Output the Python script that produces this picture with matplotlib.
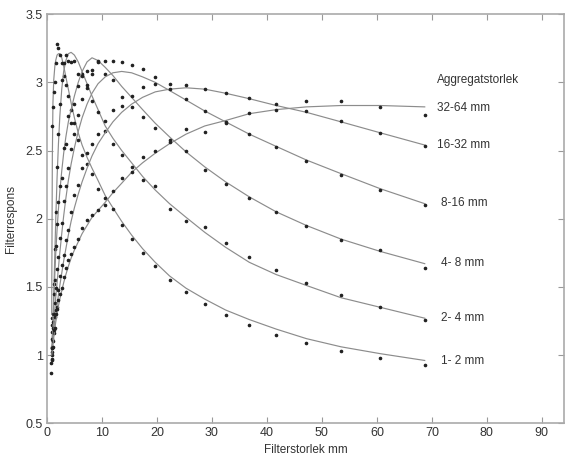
import numpy as np
import matplotlib
matplotlib.use("Agg")
import matplotlib.pyplot as plt

plt.rcParams['font.family'] = ['Liberation Sans', 'DejaVu Sans']

# filter sizes (mm) where the response was sampled
xs = [0.77, 0.87, 0.99, 1.1, 1.25, 1.45, 1.6, 1.85, 2.1, 2.35, 2.7, 3.05, 3.45,
      3.9, 4.4, 5.0, 5.7, 6.4, 7.3, 8.2, 9.3, 10.6, 12.0, 13.6, 15.4, 17.4,
      19.7, 22.3, 25.3, 28.7, 32.5, 36.8, 41.7, 47.2, 53.5, 60.6, 68.7]
nan = np.nan

labels = ['1- 2 mm', '2- 4 mm', '4- 8 mm', '8-16 mm', '16-32 mm', '32-64 mm']

# fitted curves
fit_1_2 = [nan, 1.30, 2.45, 2.85, 3.02, 3.12, 3.16, 3.20, 3.21, 3.21, 3.18, 3.12, 3.04,
           2.95, 2.85, 2.74, 2.63, 2.54, 2.45, 2.37, 2.28, 2.17, 2.08, 1.98, 1.88, 1.78,
           1.68, 1.58, 1.49, 1.41, 1.33, 1.26, 1.19, 1.12, 1.06, 1.01, 0.96]
fit_2_4 = [nan, 1.10, 1.15, 1.25, 1.45, 1.75, 1.98, 2.30, 2.55, 2.75, 2.95, 3.08, 3.16,
           3.21, 3.22, 3.20, 3.15, 3.08, 2.99, 2.90, 2.80, 2.68, 2.59, 2.50, 2.41, 2.31,
           2.21, 2.11, 2.01, 1.90, 1.79, 1.68, 1.59, 1.51, 1.42, 1.35, 1.27]
fit_4_8 = [nan, 1.05, 1.10, 1.20, 1.40, 1.60, 1.74, 1.92, 2.07, 2.20, 2.35, 2.48, 2.60,
           2.71, 2.80, 2.90, 3.00, 3.08, 3.15, 3.18, 3.16, 3.11, 3.05, 2.97, 2.89, 2.80,
           2.70, 2.60, 2.49, 2.38, 2.27, 2.16, 2.05, 1.95, 1.85, 1.76, 1.67]
fit_8_16 = [nan, 1.04, 1.08, 1.15, 1.24, 1.34, 1.42, 1.53, 1.64, 1.75, 1.89, 2.02, 2.15,
            2.28, 2.40, 2.52, 2.64, 2.74, 2.84, 2.92, 2.99, 3.04, 3.07, 3.08, 3.07, 3.04,
            3.00, 2.94, 2.87, 2.79, 2.71, 2.62, 2.53, 2.43, 2.33, 2.22, 2.11]
fit_16_32 = [nan, 1.03, 1.07, 1.12, 1.18, 1.25, 1.30, 1.37, 1.44, 1.51, 1.60, 1.69, 1.78,
             1.88, 1.98, 2.08, 2.18, 2.27, 2.37, 2.46, 2.55, 2.63, 2.71, 2.78, 2.84, 2.89,
             2.93, 2.95, 2.96, 2.95, 2.92, 2.88, 2.83, 2.78, 2.71, 2.63, 2.54]
fit_32_64 = [nan, 1.00, 1.03, 1.07, 1.13, 1.19, 1.24, 1.30, 1.36, 1.41, 1.47, 1.53, 1.59,
             1.65, 1.71, 1.77, 1.83, 1.89, 1.95, 2.01, 2.06, 2.12, 2.19, 2.26, 2.34, 2.41,
             2.48, 2.55, 2.62, 2.68, 2.72, 2.77, 2.80, 2.82, 2.83, 2.83, 2.82]

# measured points
pts_1_2 = [nan, 1.27, 2.68, 2.82, 2.93, 3.00, 3.14, 3.28, 3.25, 3.20, 3.14, 3.05, 2.98,
           2.90, 2.80, 2.70, 2.58, 2.47, 2.40, 2.33, 2.22, 2.15, 2.07, 1.95, 1.85, 1.75,
           1.65, 1.55, 1.46, 1.375, 1.29, 1.22, 1.15, 1.09, 1.03, 0.976, 0.93]
pts_2_4 = [nan, 1.17, 1.22, 1.30, 1.52, 1.78, 2.05, 2.38, 2.62, 2.84, 3.02, 3.14, 3.20,
           3.16, 3.15, 3.16, 3.06, 3.06, 2.96, 2.86, 2.78, 2.64, 2.55, 2.47, 2.38, 2.28,
           2.24, 2.07, 1.98, 1.936, 1.82, 1.72, 1.623, 1.527, 1.439, 1.353, 1.26]
pts_4_8 = [nan, 1.00, 1.06, 1.24, 1.45, 1.55, 1.80, 1.96, 2.12, 2.24, 2.30, 2.52, 2.55,
           2.75, 2.70, 2.84, 2.97, 3.05, 3.08, 3.09, 3.15, 3.06, 3.02, 2.89, 2.82, 2.745,
           2.664, 2.58, 2.50, 2.36, 2.255, 2.152, 2.046, 1.943, 1.843, 1.77, 1.64]
pts_8_16 = [nan, 0.97, 1.12, 1.20, 1.30, 1.38, 1.49, 1.63, 1.72, 1.86, 1.97, 2.13, 2.24,
            2.37, 2.51, 2.62, 2.76, 2.88, 2.98, 3.06, 3.16, 3.16, 3.16, 3.15, 3.125, 3.10,
            3.04, 2.99, 2.88, 2.787, 2.70, 2.618, 2.524, 2.42, 2.32, 2.21, 2.10]
pts_16_32 = [0.94, 1.02, 1.05, 1.10, 1.16, 1.28, 1.33, 1.35, 1.48, 1.58, 1.66, 1.73, 1.84,
             1.92, 2.05, 2.17, 2.25, 2.37, 2.48, 2.55, 2.62, 2.72, 2.80, 2.83, 2.90, 2.965,
             2.99, 2.95, 2.978, 2.95, 2.92, 2.885, 2.838, 2.787, 2.715, 2.63, 2.53]
pts_32_64 = [0.87, 0.96, 1.05, 1.06, 1.18, 1.20, 1.30, 1.34, 1.40, 1.45, 1.49, 1.57, 1.64,
             1.70, 1.74, 1.79, 1.85, 1.93, 1.99, 2.03, 2.06, 2.10, 2.20, 2.30, 2.34, 2.45,
             2.50, 2.56, 2.66, 2.635, 2.71, 2.774, 2.80, 2.86, 2.86, 2.82, 2.76]

fits = [fit_1_2, fit_2_4, fit_4_8, fit_8_16, fit_16_32, fit_32_64]
points = [pts_1_2, pts_2_4, pts_4_8, pts_8_16, pts_16_32, pts_32_64]
label_x = [71.6, 71.6, 71.6, 71.6, 70.9, 70.9]
label_y = [0.956, 1.272, 1.676, 2.118, 2.544, 2.81]

fig = plt.figure(figsize=(5.65, 4.57), dpi=100)
ax = fig.add_axes([0.083, 0.074, 0.915, 0.895])

for f, p in zip(fits, points):
    ax.plot(xs, f, color='#8c8c8c', lw=0.85)
    ax.plot(xs, p, ls='none', marker='o', ms=1.6, color='#222222')

for lx, ly, t in zip(label_x, label_y, labels):
    ax.text(lx, ly, t, fontsize=8.5, color='#333333', va='center', ha='left')
ax.text(70.9, 3.015, 'Aggregatstorlek', fontsize=8.5, color='#333333', va='center', ha='left')

ax.set_xlim(0, 94)
ax.set_ylim(0.5, 3.5)
ax.set_xticks(range(0, 100, 10))
ax.set_yticks([0.5, 1, 1.5, 2, 2.5, 3, 3.5])
ax.set_yticklabels(['0.5', '1', '1.5', '2', '2.5', '3', '3.5'])
ax.tick_params(direction='in', top=True, right=True, length=4, width=0.8,
               color='#999999', labelsize=9, labelcolor='#333333', pad=3)
for s in ax.spines.values():
    s.set_color('#aaaaaa')
    s.set_linewidth(1.2)
ax.set_xlabel('Filterstorlek mm', fontsize=8.5, color='#333333', labelpad=3)
ax.set_ylabel('Filterrespons', fontsize=8.5, color='#333333', labelpad=6)

fig.savefig('out.png', dpi=100)
